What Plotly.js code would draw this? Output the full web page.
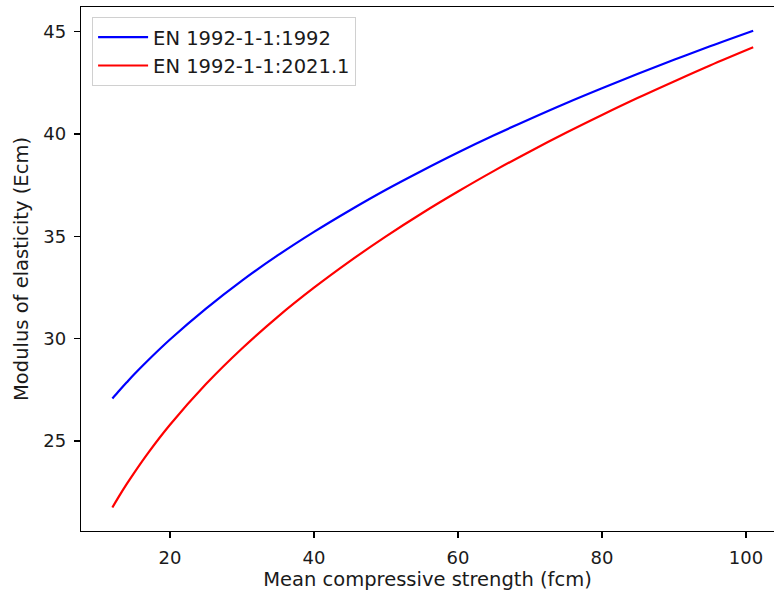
<!DOCTYPE html>
<html>
<head>
<meta charset="utf-8">
<script src="https://cdn.plot.ly/plotly-3.0.1.min.js"></script>
<style>html,body{margin:0;padding:0;background:#fff;}#chart{width:774px;height:597px;}</style>
</head>
<body>
<div id="chart"></div>
<script>
// Mean compressive strength (fcm)
const fcm = [12, 13, 14, 15, 17, 20, 25, 30, 35, 40, 45, 50, 55, 60, 65, 70, 75, 80, 85, 90, 95, 101];
// EN 1992-1-1:1992
const ecm1992 = [27.08, 27.48, 27.87, 28.25, 28.96, 29.96, 31.47, 32.84, 34.08, 35.22, 36.28, 37.28, 38.21, 39.10, 39.94, 40.74, 41.51, 42.24, 42.95, 43.63, 44.29, 45.05];
// EN 1992-1-1:2021.1
const ecm2021 = [21.75, 22.34, 22.90, 23.43, 24.43, 25.79, 27.78, 29.52, 31.08, 32.49, 33.79, 35.00, 36.13, 37.19, 38.20, 39.15, 40.06, 40.93, 41.77, 42.57, 43.35, 44.24];
const names = ["EN 1992-1-1:1992", "EN 1992-1-1:2021.1"];
const xTicks = [20, 40, 60, 80, 100];
const yTicks = [25, 30, 35, 40, 45];

const tickFont = {family: "DejaVu Sans", size: 18, color: "#1a1a1a"};
const font = {family: "DejaVu Sans", size: 19.5, color: "#1a1a1a"};

const traces = [
  {x: fcm, y: ecm1992, name: names[0], mode: "lines", line: {color: "#0000ff", width: 2.2, shape: "spline"}},
  {x: fcm, y: ecm2021, name: names[1], mode: "lines", line: {color: "#ff0000", width: 2.2, shape: "spline"}}
];

const axisCommon = {
  showgrid: false, zeroline: false, showline: true, linecolor: "#000", linewidth: 1.3,
  ticks: "outside", ticklen: 6, tickwidth: 1.3, tickcolor: "#000",
  tickfont: tickFont, ticklabelstandoff: 4
};

const layout = {
  width: 774, height: 597,
  margin: {l: 81, r: 0, t: 7, b: 66},
  paper_bgcolor: "#fff", plot_bgcolor: "#fff",
  font: font,
  showlegend: true,
  legend: {
    x: 0.016, y: 0.981, xanchor: "left", yanchor: "top",
    bgcolor: "#fff", bordercolor: "#d0d0d0", borderwidth: 1,
    font: font, tracegroupgap: 0, itemwidth: 50
  },
  xaxis: Object.assign({}, axisCommon, {
    range: [7.64, 103.89], tickvals: xTicks, ticktext: xTicks.map(String), mirror: true,
    title: {text: "Mean compressive strength (fcm)", font: font, standoff: 5}
  }),
  yaxis: Object.assign({}, axisCommon, {
    range: [20.6, 46.21], tickvals: yTicks, ticktext: yTicks.map(String), mirror: false,
    title: {text: "Modulus of elasticity (Ecm)", font: font, standoff: 9}
  })
};

Plotly.newPlot("chart", traces, layout, {displayModeBar: false, staticPlot: true});
</script>
</body>
</html>
